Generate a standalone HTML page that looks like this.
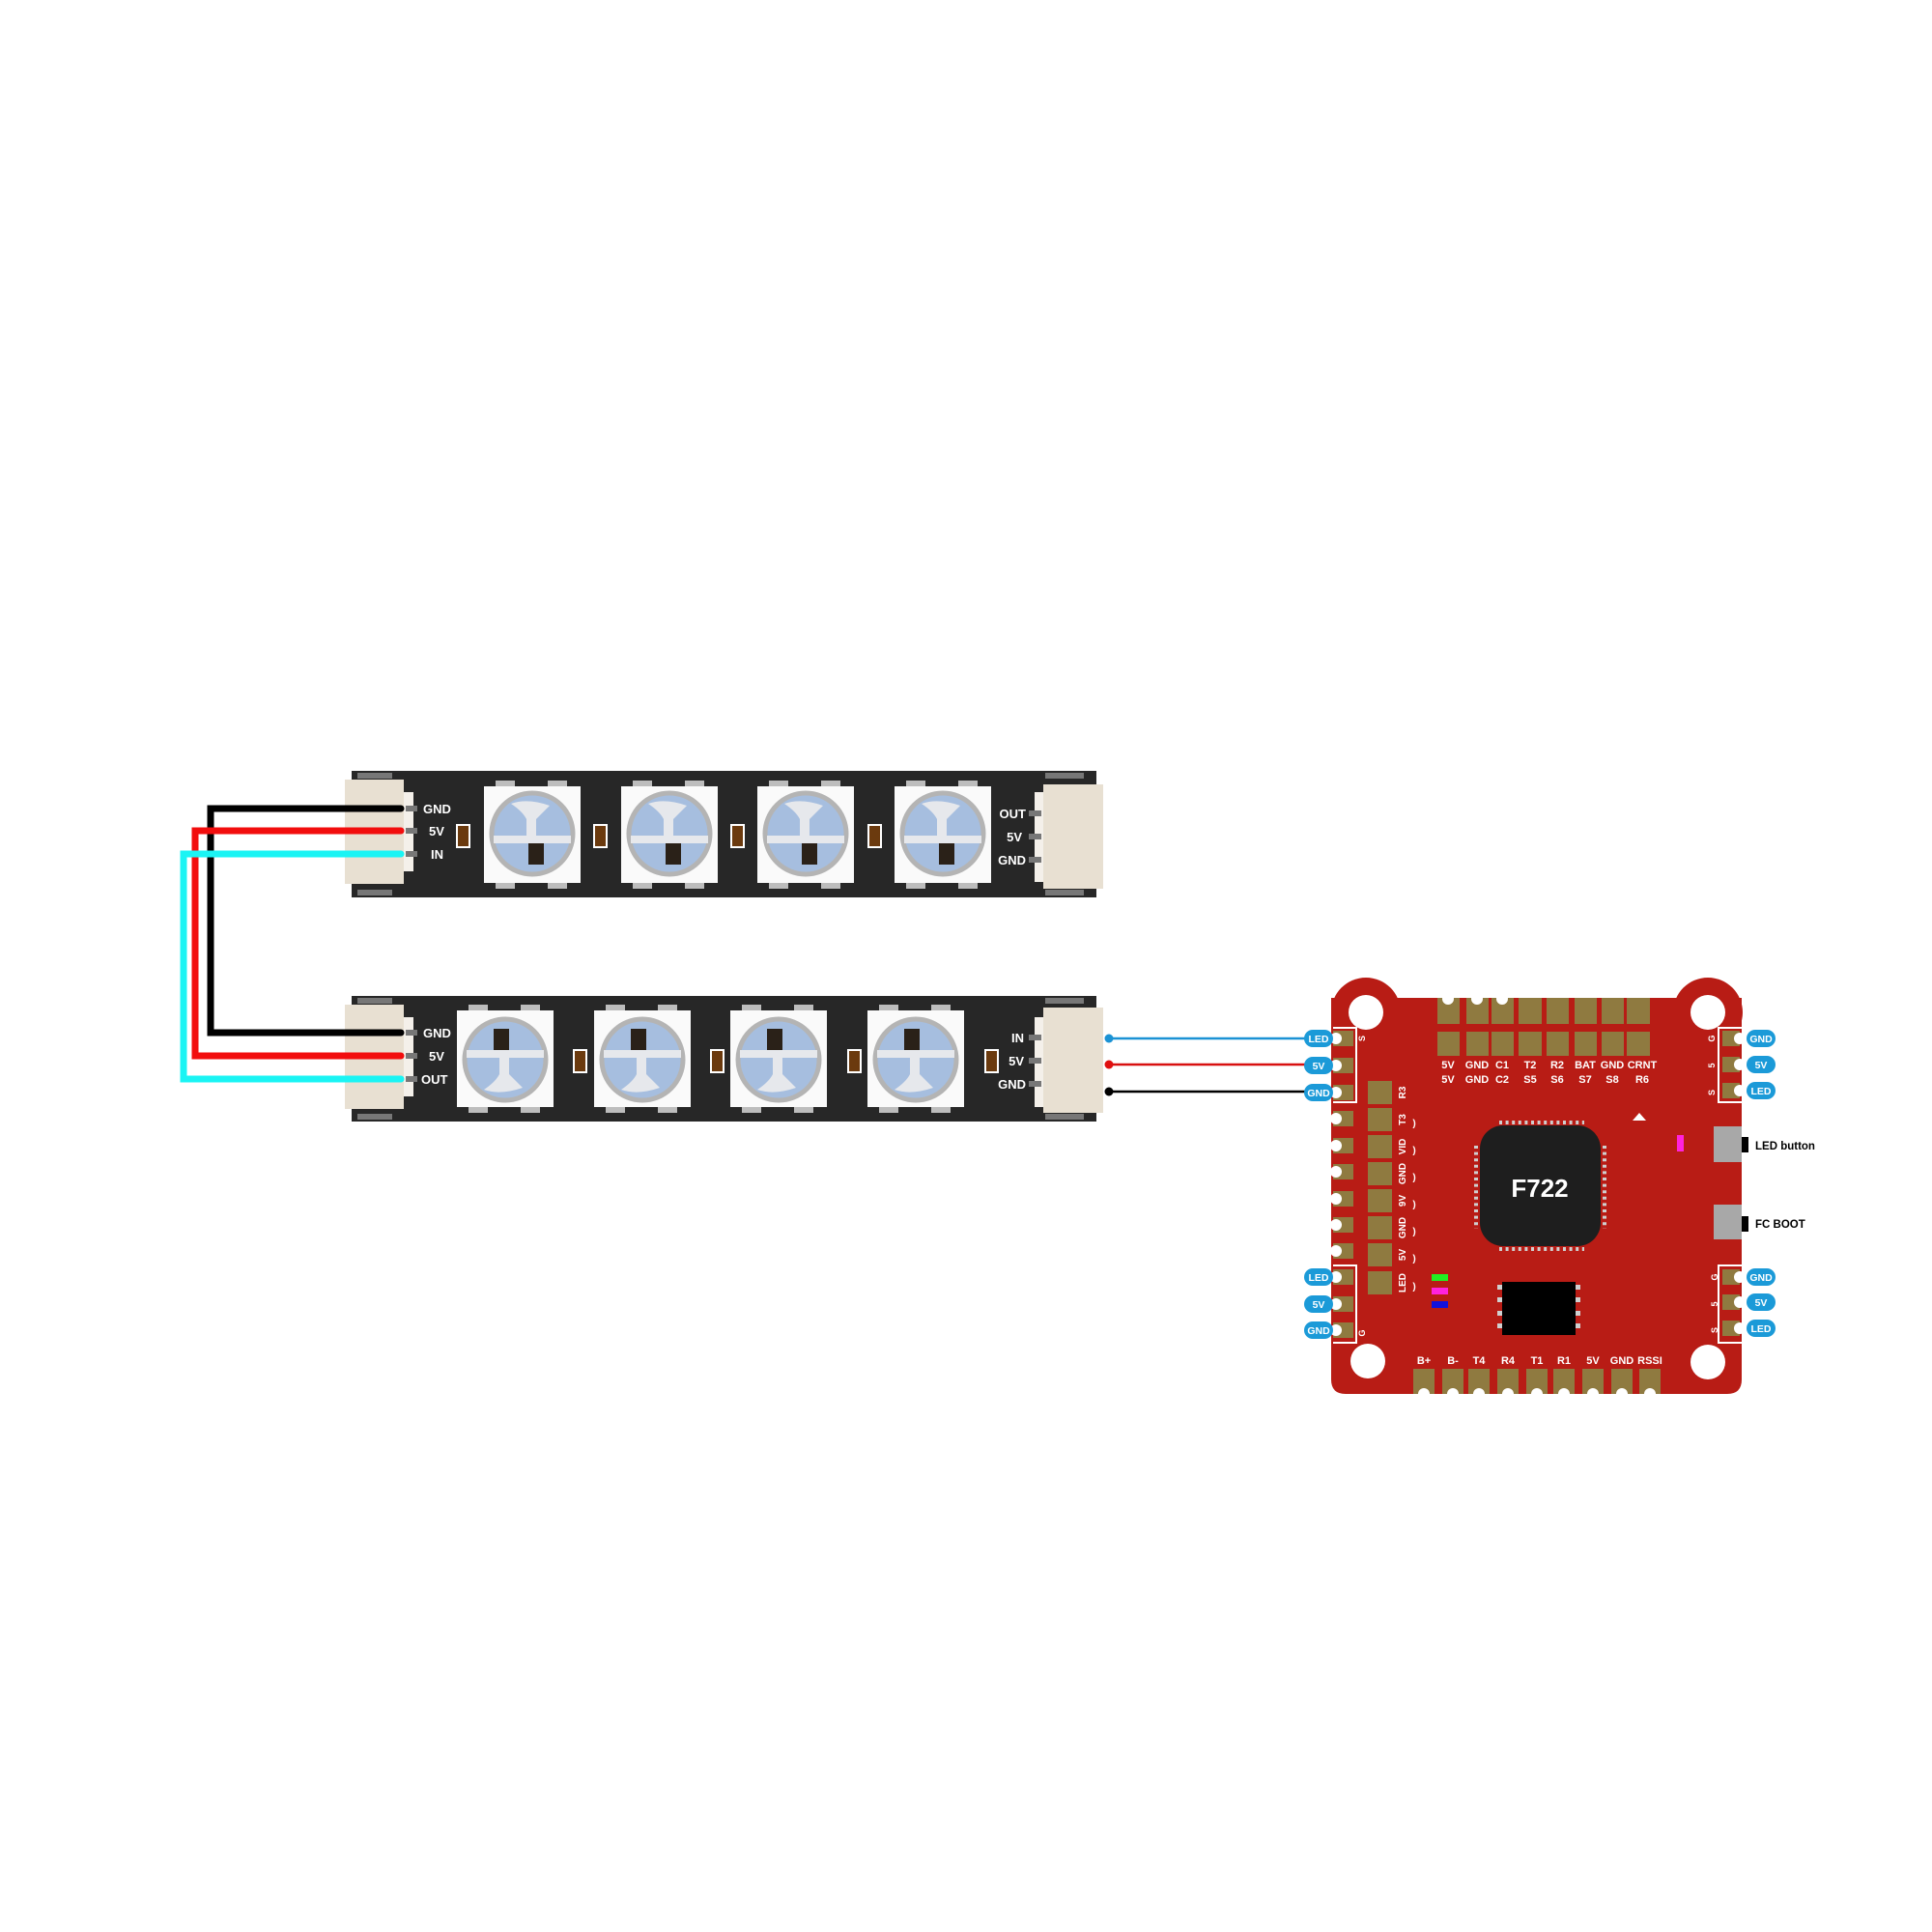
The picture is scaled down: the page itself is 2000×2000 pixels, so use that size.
<!DOCTYPE html>
<html><head><meta charset="utf-8"><style>
html,body{margin:0;padding:0;background:#fff}
svg{display:block}
text{font-family:"Liberation Sans",sans-serif;font-weight:bold}
</style></head><body>
<svg width="2000" height="2000" viewBox="0 0 2000 2000" xmlns="http://www.w3.org/2000/svg">
<defs>
<g id="ledA">
  <rect x="12" y="-6" width="20" height="8" fill="#bdbdbd"/>
  <rect x="66" y="-6" width="20" height="8" fill="#bdbdbd"/>
  <rect x="12" y="98" width="20" height="8" fill="#bdbdbd"/>
  <rect x="66" y="98" width="20" height="8" fill="#bdbdbd"/>
  <rect x="0" y="0" width="100" height="100" fill="#fafafa"/>
  <circle cx="50" cy="49" r="42" fill="#a6bedf" stroke="#b4b4b4" stroke-width="5"/>
  <path d="M28 18 Q45 12 68 20 Q58 30 54 34 L54 51 L44 51 L44 34 Q40 26 28 18 Z" fill="#e6e8ec"/>
  <rect x="10" y="51" width="80" height="8" fill="#e6e8ec"/>
  <rect x="46" y="59" width="16" height="22" fill="#2a2118"/>
</g>
<g id="ledB">
  <rect x="12" y="-6" width="20" height="8" fill="#bdbdbd"/>
  <rect x="66" y="-6" width="20" height="8" fill="#bdbdbd"/>
  <rect x="12" y="98" width="20" height="8" fill="#bdbdbd"/>
  <rect x="66" y="98" width="20" height="8" fill="#bdbdbd"/>
  <rect x="0" y="0" width="100" height="100" fill="#fafafa"/>
  <circle cx="50" cy="51" r="42" fill="#a6bedf" stroke="#b4b4b4" stroke-width="5"/>
  <path d="M28 82 Q45 88 68 80 Q58 70 54 66 L54 49 L44 49 L44 66 Q40 74 28 82 Z" fill="#e6e8ec"/>
  <rect x="10" y="41" width="80" height="8" fill="#e6e8ec"/>
  <rect x="38" y="19" width="16" height="22" fill="#2a2118"/>
</g>
<g id="cap">
  <rect x="0" y="0" width="15" height="25" fill="#fff"/>
  <rect x="2" y="2" width="11" height="21" fill="#6b3a0e"/>
</g>
</defs>

<!-- Strip 1 -->
<rect x="364" y="798" width="771" height="131" fill="#272727"/>
<rect x="370" y="800" width="36" height="6" fill="#777"/>
<rect x="370" y="921" width="36" height="6" fill="#777"/>
<rect x="357" y="807" width="61" height="108" fill="#e8e0d2"/>
<rect x="418" y="820" width="10" height="82" fill="#f4f0ea"/>
<rect x="420" y="834" width="12" height="6" fill="#777"/>
<rect x="420" y="857" width="12" height="6" fill="#777"/>
<rect x="420" y="881" width="12" height="6" fill="#777"/>
<g fill="#fff" font-size="13">
<text x="438" y="842">GND</text><text x="444" y="865">5V</text><text x="446" y="889">IN</text>
</g>
<use href="#ledA" x="501" y="814"/><use href="#ledA" x="643" y="814"/><use href="#ledA" x="784" y="814"/><use href="#ledA" x="926" y="814"/>
<use href="#cap" x="472" y="853"/><use href="#cap" x="614" y="853"/><use href="#cap" x="756" y="853"/><use href="#cap" x="898" y="853"/>
<rect x="1082" y="800" width="40" height="6" fill="#777"/>
<rect x="1082" y="921" width="40" height="6" fill="#777"/>
<rect x="1071" y="820" width="10" height="93" fill="#f4f0ea"/>
<rect x="1080" y="812" width="62" height="108" fill="#e8e0d2"/>
<rect x="1065" y="839" width="13" height="6" fill="#777"/>
<rect x="1065" y="863" width="13" height="6" fill="#777"/>
<rect x="1065" y="887" width="13" height="6" fill="#777"/>
<g fill="#fff" font-size="13" text-anchor="end">
<text x="1062" y="847">OUT</text><text x="1058" y="871">5V</text><text x="1062" y="895">GND</text>
</g>

<!-- Strip 2 -->
<rect x="364" y="1031" width="771" height="130" fill="#272727"/>
<rect x="370" y="1033" width="36" height="6" fill="#777"/>
<rect x="370" y="1153" width="36" height="6" fill="#777"/>
<rect x="357" y="1040" width="61" height="108" fill="#e8e0d2"/>
<rect x="418" y="1053" width="10" height="82" fill="#f4f0ea"/>
<rect x="420" y="1066" width="12" height="6" fill="#777"/>
<rect x="420" y="1090" width="12" height="6" fill="#777"/>
<rect x="420" y="1114" width="12" height="6" fill="#777"/>
<g fill="#fff" font-size="13">
<text x="438" y="1074">GND</text><text x="444" y="1098">5V</text><text x="436" y="1122">OUT</text>
</g>
<use href="#ledB" x="473" y="1046"/><use href="#ledB" x="615" y="1046"/><use href="#ledB" x="756" y="1046"/><use href="#ledB" x="898" y="1046"/>
<use href="#cap" x="593" y="1086"/><use href="#cap" x="735" y="1086"/><use href="#cap" x="877" y="1086"/><use href="#cap" x="1019" y="1086"/>
<rect x="1082" y="1033" width="40" height="6" fill="#777"/>
<rect x="1082" y="1153" width="40" height="6" fill="#777"/>
<rect x="1071" y="1053" width="10" height="93" fill="#f4f0ea"/>
<rect x="1080" y="1043" width="62" height="109" fill="#e8e0d2"/>
<rect x="1065" y="1071" width="13" height="6" fill="#777"/>
<rect x="1065" y="1095" width="13" height="6" fill="#777"/>
<rect x="1065" y="1119" width="13" height="6" fill="#777"/>
<g fill="#fff" font-size="13" text-anchor="end">
<text x="1060" y="1079">IN</text><text x="1060" y="1103">5V</text><text x="1062" y="1127">GND</text>
</g>

<!-- Wires between strips -->
<g fill="none" stroke-width="7" stroke-linecap="round" stroke-linejoin="miter">
<path d="M415 837 H218 V1069 H415" stroke="#000"/>
<path d="M415 860 H202 V1093 H415" stroke="#f20d0d"/>
<path d="M415 884 H190 V1117 H415" stroke="#1af4f4"/>
</g>

<!-- Wires to board -->
<g stroke-width="2.5">
<line x1="1148" y1="1075" x2="1365" y2="1075" stroke="#1b92d4"/>
<line x1="1148" y1="1102" x2="1365" y2="1102" stroke="#d81010"/>
<line x1="1148" y1="1130" x2="1365" y2="1130" stroke="#000"/>
</g>
<circle cx="1148" cy="1075" r="4.5" fill="#1b92d4"/>
<circle cx="1148" cy="1102" r="4.5" fill="#e01010"/>
<circle cx="1148" cy="1130" r="4.5" fill="#000"/>

<!-- Board -->
<g fill="#b81c15">
<circle cx="1414" cy="1048" r="36"/>
<circle cx="1768" cy="1048" r="36"/>
<path d="M1378 1033 H1803 V1428 Q1803 1443 1788 1443 H1393 Q1378 1443 1378 1428 Z"/>
</g>
<g fill="#fff">
<circle cx="1414" cy="1048" r="18"/><circle cx="1768" cy="1048" r="18"/>
<circle cx="1416" cy="1409" r="18"/><circle cx="1768" cy="1410" r="18"/>
</g>

<!-- Top pads -->
<g fill="#8f7a40">
<rect x="1488" y="1033" width="23" height="27"/><rect x="1518" y="1033" width="23" height="27"/><rect x="1544" y="1033" width="23" height="27"/><rect x="1572" y="1033" width="24" height="27"/><rect x="1601" y="1033" width="23" height="27"/><rect x="1630" y="1033" width="23" height="27"/><rect x="1658" y="1033" width="23" height="27"/><rect x="1684" y="1033" width="24" height="27"/>
<rect x="1488" y="1068" width="23" height="25"/><rect x="1518" y="1068" width="23" height="25"/><rect x="1544" y="1068" width="23" height="25"/><rect x="1572" y="1068" width="24" height="25"/><rect x="1601" y="1068" width="23" height="25"/><rect x="1630" y="1068" width="23" height="25"/><rect x="1658" y="1068" width="23" height="25"/><rect x="1684" y="1068" width="24" height="25"/>
</g>
<g fill="#fff"><circle cx="1499" cy="1034" r="6"/><circle cx="1529" cy="1034" r="6"/><circle cx="1555" cy="1034" r="6"/></g>
<g fill="#fff" font-size="11" text-anchor="middle">
<text x="1499" y="1106">5V</text><text x="1529" y="1106">GND</text><text x="1555" y="1106">C1</text><text x="1584" y="1106">T2</text><text x="1612" y="1106">R2</text><text x="1641" y="1106">BAT</text><text x="1669" y="1106">GND</text><text x="1700" y="1106">CRNT</text>
<text x="1499" y="1121">5V</text><text x="1529" y="1121">GND</text><text x="1555" y="1121">C2</text><text x="1584" y="1121">S5</text><text x="1612" y="1121">S6</text><text x="1641" y="1121">S7</text><text x="1669" y="1121">S8</text><text x="1700" y="1121">R6</text>
</g>

<!-- Left edge pads -->
<g fill="#8f7a40">
<rect x="1380" y="1067" width="21" height="16"/><rect x="1380" y="1095" width="21" height="16"/><rect x="1380" y="1123" width="21" height="16"/><rect x="1380" y="1150" width="21" height="16"/><rect x="1380" y="1178" width="21" height="16"/><rect x="1380" y="1205" width="21" height="16"/><rect x="1380" y="1233" width="21" height="16"/><rect x="1380" y="1260" width="21" height="16"/><rect x="1380" y="1287" width="21" height="16"/><rect x="1380" y="1314" width="21" height="16"/><rect x="1380" y="1342" width="21" height="16"/><rect x="1380" y="1369" width="21" height="16"/>
</g>
<g fill="#fff">
<circle cx="1383" cy="1075" r="6"/><circle cx="1383" cy="1103" r="6"/><circle cx="1383" cy="1131" r="6"/><circle cx="1383" cy="1158" r="6"/><circle cx="1383" cy="1186" r="6"/><circle cx="1383" cy="1213" r="6"/><circle cx="1383" cy="1241" r="6"/><circle cx="1383" cy="1268" r="6"/><circle cx="1383" cy="1295" r="6"/><circle cx="1383" cy="1322" r="6"/><circle cx="1383" cy="1350" r="6"/><circle cx="1383" cy="1377" r="6"/>
</g>
<g fill="none" stroke="#fff" stroke-width="2">
<path d="M1380 1064 H1404 V1141 H1380"/>
<path d="M1380 1310 H1404 V1390 H1380"/>
<path d="M1803 1064 H1779 V1141 H1803"/>
<path d="M1803 1310 H1779 V1390 H1803"/>
</g>
<!-- second column pads -->
<g fill="#8f7a40">
<rect x="1416" y="1119" width="25" height="24"/><rect x="1416" y="1147" width="25" height="24"/><rect x="1416" y="1175" width="25" height="24"/><rect x="1416" y="1203" width="25" height="24"/><rect x="1416" y="1231" width="25" height="24"/><rect x="1416" y="1259" width="25" height="24"/><rect x="1416" y="1287" width="25" height="24"/><rect x="1416" y="1316" width="25" height="24"/>
</g>
<g fill="#fff" font-size="10" text-anchor="middle">
<text transform="translate(1455 1131) rotate(-90)">R3</text>
<text transform="translate(1455 1159) rotate(-90)">T3</text>
<text transform="translate(1455 1187) rotate(-90)">VID</text>
<text transform="translate(1455 1215) rotate(-90)">GND</text>
<text transform="translate(1455 1243) rotate(-90)">9V</text>
<text transform="translate(1455 1271) rotate(-90)">GND</text>
<text transform="translate(1455 1299) rotate(-90)">5V</text>
<text transform="translate(1455 1328) rotate(-90)">LED</text>
<text x="1464" y="1166">)</text><text x="1464" y="1194">)</text><text x="1464" y="1222">)</text><text x="1464" y="1250">)</text><text x="1464" y="1278">)</text><text x="1464" y="1306">)</text><text x="1464" y="1335">)</text>
<text transform="translate(1413 1075) rotate(-90)" font-size="9">S</text>
<text transform="translate(1413 1380) rotate(-90)" font-size="9">G</text>
<text transform="translate(1775 1075) rotate(-90)" font-size="9">G</text>
<text transform="translate(1775 1103) rotate(-90)" font-size="9">5</text>
<text transform="translate(1775 1131) rotate(-90)" font-size="9">S</text>
<text transform="translate(1778 1322) rotate(-90)" font-size="9">G</text>
<text transform="translate(1778 1350) rotate(-90)" font-size="9">5</text>
<text transform="translate(1778 1377) rotate(-90)" font-size="9">S</text>
</g>

<!-- Right pads -->
<g fill="#8f7a40">
<rect x="1783" y="1067" width="18" height="16"/><rect x="1783" y="1094" width="18" height="16"/><rect x="1783" y="1121" width="18" height="16"/>
<rect x="1783" y="1314" width="18" height="16"/><rect x="1783" y="1340" width="18" height="16"/><rect x="1783" y="1367" width="18" height="16"/>
</g>
<g fill="#fff">
<circle cx="1801" cy="1075" r="6"/><circle cx="1801" cy="1102" r="6"/><circle cx="1801" cy="1129" r="6"/>
<circle cx="1801" cy="1322" r="6"/><circle cx="1801" cy="1348" r="6"/><circle cx="1801" cy="1375" r="6"/>
</g>

<!-- Bubbles -->
<g fill="#1b9ad8">
<rect x="1350" y="1066" width="30" height="18" rx="9"/><rect x="1350" y="1094" width="30" height="18" rx="9"/><rect x="1350" y="1122" width="30" height="18" rx="9"/>
<rect x="1350" y="1313" width="30" height="18" rx="9"/><rect x="1350" y="1341" width="30" height="18" rx="9"/><rect x="1350" y="1368" width="30" height="18" rx="9"/>
<rect x="1808" y="1066" width="30" height="18" rx="9"/><rect x="1808" y="1093" width="30" height="18" rx="9"/><rect x="1808" y="1120" width="30" height="18" rx="9"/>
<rect x="1808" y="1313" width="30" height="18" rx="9"/><rect x="1808" y="1339" width="30" height="18" rx="9"/><rect x="1808" y="1366" width="30" height="18" rx="9"/>
</g>
<g fill="#fff" font-size="10.5" text-anchor="middle">
<text x="1365" y="1079">LED</text><text x="1365" y="1107">5V</text><text x="1365" y="1135">GND</text>
<text x="1365" y="1326">LED</text><text x="1365" y="1354">5V</text><text x="1365" y="1381">GND</text>
<text x="1823" y="1079">GND</text><text x="1823" y="1106">5V</text><text x="1823" y="1133">LED</text>
<text x="1823" y="1326">GND</text><text x="1823" y="1352">5V</text><text x="1823" y="1379">LED</text>
</g>

<!-- Chip -->
<g stroke="#cfcfcf" stroke-width="4" stroke-dasharray="3 3.6">
<line x1="1552" y1="1162" x2="1640" y2="1162"/>
<line x1="1552" y1="1293" x2="1640" y2="1293"/>
<line x1="1528" y1="1186" x2="1528" y2="1272"/>
<line x1="1661" y1="1186" x2="1661" y2="1272"/>
</g>
<rect x="1532" y="1165" width="125" height="125" rx="24" fill="#1e1e1e"/>
<text x="1594" y="1239" fill="#fff" font-size="26" text-anchor="middle">F722</text>

<!-- flash -->
<g fill="#cfcfcf">
<rect x="1550" y="1330" width="6" height="5"/><rect x="1550" y="1343" width="6" height="5"/><rect x="1550" y="1357" width="6" height="5"/><rect x="1550" y="1370" width="6" height="5"/>
<rect x="1630" y="1330" width="6" height="5"/><rect x="1630" y="1343" width="6" height="5"/><rect x="1630" y="1357" width="6" height="5"/><rect x="1630" y="1370" width="6" height="5"/>
</g>
<rect x="1555" y="1327" width="76" height="55" fill="#000"/>
<rect x="1482" y="1319" width="17" height="7" fill="#22ee22"/>
<rect x="1482" y="1333" width="17" height="7" fill="#ff22dd"/>
<rect x="1482" y="1347" width="17" height="7" fill="#1111dd"/>
<rect x="1736" y="1175" width="7" height="17" fill="#ff22dd"/>
<path d="M1690 1160 L1697 1152 L1704 1160 Z" fill="#fff"/>

<!-- Bottom pads -->
<g fill="#8f7a40">
<rect x="1463" y="1417" width="22" height="26"/><rect x="1493" y="1417" width="22" height="26"/><rect x="1520" y="1417" width="22" height="26"/><rect x="1550" y="1417" width="22" height="26"/><rect x="1580" y="1417" width="22" height="26"/><rect x="1608" y="1417" width="22" height="26"/><rect x="1638" y="1417" width="22" height="26"/><rect x="1668" y="1417" width="22" height="26"/><rect x="1697" y="1417" width="22" height="26"/>
</g>
<g fill="#fff">
<circle cx="1474" cy="1443" r="6"/><circle cx="1504" cy="1443" r="6"/><circle cx="1531" cy="1443" r="6"/><circle cx="1561" cy="1443" r="6"/><circle cx="1591" cy="1443" r="6"/><circle cx="1619" cy="1443" r="6"/><circle cx="1649" cy="1443" r="6"/><circle cx="1679" cy="1443" r="6"/><circle cx="1708" cy="1443" r="6"/>
</g>
<g fill="#fff" font-size="11" text-anchor="middle">
<text x="1474" y="1412">B+</text><text x="1504" y="1412">B-</text><text x="1531" y="1412">T4</text><text x="1561" y="1412">R4</text><text x="1591" y="1412">T1</text><text x="1619" y="1412">R1</text><text x="1649" y="1412">5V</text><text x="1679" y="1412">GND</text><text x="1708" y="1412">RSSI</text>
</g>

<!-- Buttons -->
<rect x="1774" y="1166" width="29" height="37" fill="#a8a8a8"/>
<rect x="1774" y="1247" width="29" height="36" fill="#a8a8a8"/>
<rect x="1803" y="1177" width="7" height="16" fill="#000"/>
<rect x="1803" y="1259" width="7" height="16" fill="#000"/>
<g fill="#000" font-size="11.5">
<text x="1817" y="1190">LED button</text>
<text x="1817" y="1271">FC BOOT</text>
</g>
</svg>
</body></html>
